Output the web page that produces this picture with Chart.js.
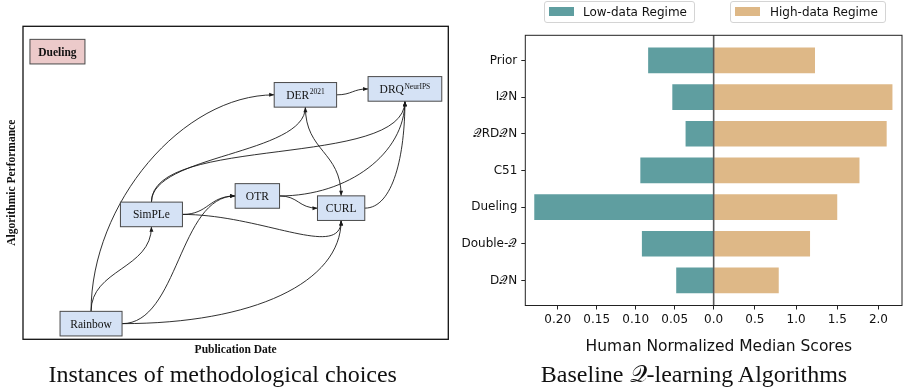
<!DOCTYPE html>
<html>
<head>
<meta charset="utf-8">
<script src="https://cdn.jsdelivr.net/npm/chart.js@4.4.0/dist/chart.umd.min.js"></script>
<style>
  body { margin: 0; width: 904px; height: 389px; background: #fff; position: relative; overflow: hidden; }
  .panel { position: absolute; top: 0; height: 362px; }
  .caption { position: absolute; top: 359.6px; line-height: 28px; font-family: "Liberation Serif", "Times New Roman", serif; font-size: 24px; color: #111; white-space: nowrap; transform: translateX(-50%); }
  .xtitle { position: absolute; top: 336.6px; line-height: 18px; font-family: "DejaVu Sans", sans-serif; font-size: 15.5px; color: #111; white-space: nowrap; transform: translateX(-50%); }
  .legend-box { position: absolute; top: 1px; height: 22.3px; box-sizing: border-box; border: 1px solid #d4d4d4; border-radius: 3px; font-family: "DejaVu Sans", sans-serif; font-size: 12px; color: #111; }
  .legend-box .swatch { position: absolute; top: 5.3px; width: 25px; height: 8.5px; }
  .legend-box .label { position: absolute; top: 1.5px; line-height: 16px; white-space: nowrap; }
</style>
</head>
<body>
<div class="panel" style="left:0;width:452px;"><canvas id="flowChart"></canvas></div>
<div class="panel" style="left:450px;width:454px;"><canvas id="barChart"></canvas></div>

<div class="legend-box" style="left:543.7px;width:151.6px;">
  <div class="swatch" style="left:4px;background:#5f9ea0;"></div>
  <div class="label" style="left:38.3px;">Low-data Regime</div>
</div>
<div class="legend-box" style="left:729.7px;width:156px;">
  <div class="swatch" style="left:4.3px;background:#deb887;"></div>
  <div class="label" style="left:39.3px;">High-data Regime</div>
</div>
<div class="xtitle" style="left:718.8px;">Human Normalized Median Scores</div>
<div class="caption" style="left:222.7px;">Instances of methodological choices</div>
<div class="caption" style="left:694px;">Baseline 𝒬-learning Algorithms</div>

<script>
// Left panel: algorithms placed by publication date / performance
const nodeNames = ['Rainbow', 'SimPLe', 'OTR', 'CURL', 'DER', 'DRQ', 'Dueling'];
const nodeSup = ['', '', '', '', '2021', 'NeurIPS', ''];
const nodeDate = [16.0, 30.2, 55.1, 74.8, 66.4, 89.8, 8.1];
const nodePerf = [5.0, 39.9, 45.8, 41.9, 78.1, 80.0, 91.9];

// [from, exit side, to, entry side, bend]
const edges = [
    ['Rainbow', 'top', 'DER', 'left', 0.5],
    ['Rainbow', 'top', 'SimPLe', 'bottom', 0.5],
    ['Rainbow', 'right', 'OTR', 'left', 0.5],
    ['Rainbow', 'right', 'CURL', 'bottom', 0.6],
    ['SimPLe', 'top', 'DER', 'bottom', 0.5],
    ['SimPLe', 'top', 'DRQ', 'bottom', 0.2],
    ['SimPLe', 'right', 'OTR', 'left', 0.5],
    ['SimPLe', 'right', 'CURL', 'bottom', 0.5],
    ['OTR', 'right', 'CURL', 'left', 0.5],
    ['OTR', 'right', 'DRQ', 'bottom', 0.55],
    ['DER', 'bottom', 'CURL', 'top', 0.5],
    ['DER', 'right', 'DRQ', 'left', 0.5],
    ['CURL', 'right', 'DRQ', 'bottom', 0.5]
];

// Right panel: baseline Q-learning algorithms
const categories = ['Prior', 'I𝒬N', '𝒬RD𝒬N', 'C51', 'Dueling', 'Double-𝒬', 'D𝒬N'];
const lowData = [0.084, 0.053, 0.036, 0.094, 0.230, 0.092, 0.048];
const highData = [1.23, 2.17, 2.10, 1.77, 1.50, 1.17, 0.79];
const lowTicks = [0.05, 0.10, 0.15, 0.20];
const highTicks = [0.0, 0.5, 1.0, 1.5, 2.0];

Chart.defaults.font.family = 'DejaVu Sans';
Chart.defaults.color = '#111';

const boxStyle = {
    width: { Rainbow: 62, SimPLe: 62, OTR: 44.4, CURL: 47.3, DER: 62.4, DRQ: 73.7, Dueling: 55 },
    height: 24.6
};
const DIRS = { top: [0, -1], bottom: [0, 1], left: [-1, 0], right: [1, 0] };

function nodeBoxes(chart) {
    const xs = chart.scales.x, ys = chart.scales.y;
    const boxes = {};
    nodeNames.forEach((name, i) => {
        boxes[name] = {
            cx: xs.getPixelForValue(nodeDate[i]),
            cy: ys.getPixelForValue(nodePerf[i]),
            w: boxStyle.width[name],
            h: boxStyle.height,
            sup: nodeSup[i],
            special: name === 'Dueling'
        };
    });
    return boxes;
}

function portOf(b, side) {
    const d = DIRS[side];
    return [b.cx + d[0] * b.w / 2, b.cy + d[1] * b.h / 2];
}

const diagramPlugin = {
    id: 'diagram',
    afterDatasetsDraw(chart) {
        const ctx = chart.ctx;
        const a = chart.chartArea;
        const boxes = nodeBoxes(chart);
        ctx.save();

        // edges
        ctx.strokeStyle = '#1a1a1a';
        ctx.fillStyle = '#1a1a1a';
        ctx.lineWidth = 0.9;
        edges.forEach(([from, fs, to, ts, bend]) => {
            const p0 = portOf(boxes[from], fs);
            const p3 = portOf(boxes[to], ts);
            const dx = p3[0] - p0[0], dy = p3[1] - p0[1];
            const dist = Math.hypot(dx, dy);
            const d0 = DIRS[fs], d3 = DIRS[ts];
            const k0 = Math.max(bend * Math.abs(d0[0] ? dx : dy), 0.25 * dist);
            const k3 = Math.max(bend * Math.abs(d3[0] ? dx : dy), 0.25 * dist);
            const p1 = [p0[0] + d0[0] * k0, p0[1] + d0[1] * k0];
            const p2 = [p3[0] + d3[0] * k3, p3[1] + d3[1] * k3];
            ctx.beginPath();
            ctx.moveTo(p0[0], p0[1]);
            ctx.bezierCurveTo(p1[0], p1[1], p2[0], p2[1], p3[0], p3[1]);
            ctx.stroke();
            // arrow head
            const ux = -d3[0], uy = -d3[1];
            const len = 5, half = 2;
            ctx.beginPath();
            ctx.moveTo(p3[0], p3[1]);
            ctx.lineTo(p3[0] - ux * len - uy * half, p3[1] - uy * len + ux * half);
            ctx.lineTo(p3[0] - ux * len + uy * half, p3[1] - uy * len - ux * half);
            ctx.closePath();
            ctx.fill();
        });

        // boxes
        nodeNames.forEach(name => {
            const b = boxes[name];
            const x = b.cx - b.w / 2, y = b.cy - b.h / 2;
            ctx.fillStyle = b.special ? '#eccaca' : '#d5e2f5';
            ctx.fillRect(x, y, b.w, b.h);
            ctx.strokeStyle = '#4a4a4a';
            ctx.lineWidth = 1;
            ctx.strokeRect(x, y, b.w, b.h);

            ctx.fillStyle = '#111';
            ctx.textBaseline = 'alphabetic';
            ctx.textAlign = 'left';
            const mainFont = (b.special ? 'bold ' : '') + '11.5px "Liberation Serif"';
            ctx.font = mainFont;
            const w1 = ctx.measureText(name).width;
            ctx.font = '7.5px "Liberation Serif"';
            const w2 = b.sup ? ctx.measureText(b.sup).width + 0.5 : 0;
            const tx = b.cx - (w1 + w2) / 2;
            const base = b.cy + 3.9;
            ctx.font = mainFont;
            ctx.fillText(name, tx, base);
            if (b.sup) {
                ctx.font = '7.5px "Liberation Serif"';
                ctx.fillText(b.sup, tx + w1 + 0.5, base - 4.3);
            }
        });

        // frame
        ctx.strokeStyle = '#111';
        ctx.lineWidth = 1.3;
        ctx.strokeRect(a.left, a.top, a.right - a.left, a.bottom - a.top);
        ctx.restore();
    }
};

document.addEventListener('DOMContentLoaded', () => {
    const titleFont = { family: 'Liberation Serif', size: 11.5, weight: 'bold' };

    // Diagram panel
    const flowChart = new Chart(document.getElementById('flowChart'), {
        type: 'scatter',
        data: {
            datasets: [{
                data: nodeDate.map((x, i) => ({ x: x, y: nodePerf[i] })),
                pointRadius: 0
            }]
        },
        options: {
            responsive: true,
            maintainAspectRatio: false,
            animation: false,
            events: [],
            layout: { padding: { top: 26.3, right: 3.7, left: 0, bottom: 0 } },
            scales: {
                x: {
                    type: 'linear', min: 0, max: 100,
                    ticks: { display: false },
                    grid: { display: false },
                    border: { display: false },
                    title: { display: true, text: 'Publication Date', font: titleFont, color: '#111', padding: { top: 0, bottom: 5.1 } },
                    afterFit: s => { s.height = 22.7; }
                },
                y: {
                    type: 'linear', min: 0, max: 100,
                    ticks: { display: false },
                    grid: { display: false },
                    border: { display: false },
                    title: { display: true, text: 'Algorithmic Performance', font: titleFont, color: '#111', padding: { top: 5.5, bottom: 0 } },
                    afterFit: s => { s.width = 23; }
                }
            },
            plugins: {
                legend: { display: false },
                tooltip: { enabled: false }
            }
        },
        plugins: [diagramPlugin]
    });

    // Bar chart panel
    const framePlugin = {
        id: 'frame',
        afterDatasetsDraw(chart) {
            const { ctx, chartArea: a, scales } = chart;
            const x0 = scales.xHigh.getPixelForValue(0);
            ctx.save();
            ctx.strokeStyle = '#5a5a5a';
            ctx.lineWidth = 1.6;
            ctx.beginPath();
            ctx.moveTo(x0, a.top);
            ctx.lineTo(x0, a.bottom);
            ctx.stroke();
            ctx.strokeStyle = '#222';
            ctx.lineWidth = 1;
            ctx.strokeRect(a.left, a.top, a.right - a.left, a.bottom - a.top);
            ctx.restore();
        }
    };

    const tickGrid = { drawOnChartArea: false, drawTicks: true, tickLength: 4, color: '#222', offset: false };

    const barChart = new Chart(document.getElementById('barChart'), {
        type: 'bar',
        data: {
            datasets: [{
                label: 'Low-data Regime',
                data: lowData.map((v, i) => ({ x: v, y: i })),
                backgroundColor: '#5f9ea0',
                xAxisID: 'xLow',
                yAxisID: 'y',
                grouped: false,
                barPercentage: 0.7,
                categoryPercentage: 1
            }, {
                label: 'High-data Regime',
                data: highData.map((v, i) => ({ x: v, y: i })),
                backgroundColor: '#deb887',
                xAxisID: 'xHigh',
                yAxisID: 'y',
                grouped: false,
                barPercentage: 0.7,
                categoryPercentage: 1
            }]
        },
        options: {
            indexAxis: 'y',
            responsive: true,
            maintainAspectRatio: false,
            animation: false,
            events: [],
            layout: { padding: { top: 35.3, right: 2, left: 0, bottom: 0 } },
            scales: {
                y: {
                    type: 'linear',
                    reverse: true,
                    min: -0.685,
                    max: 6.685,
                    offset: false,
                    afterBuildTicks: s => { s.ticks = categories.map((c, i) => ({ value: i })); },
                    ticks: { callback: v => categories[v], font: { size: 12 }, padding: 4, autoSkip: false },
                    grid: tickGrid,
                    border: { display: false },
                    afterFit: s => { s.width = 75.3; }
                },
                xLow: {
                    type: 'linear',
                    position: 'bottom',
                    axis: 'x',
                    stack: 'scores',
                    stackWeight: 1,
                    reverse: true,
                    min: 0,
                    max: 0.2415,
                    afterBuildTicks: s => { s.ticks = lowTicks.map(v => ({ value: v })); },
                    ticks: { callback: v => v.toFixed(2), font: { size: 12 }, padding: 3, autoSkip: false, maxRotation: 0 },
                    grid: tickGrid,
                    border: { display: false },
                    afterFit: s => { s.height = 56.5; }
                },
                xHigh: {
                    type: 'linear',
                    position: 'bottom',
                    axis: 'x',
                    stack: 'scores',
                    stackWeight: 1,
                    min: 0,
                    max: 2.286,
                    afterBuildTicks: s => { s.ticks = highTicks.map(v => ({ value: v })); },
                    ticks: { callback: v => v.toFixed(1), font: { size: 12 }, padding: 3, autoSkip: false, maxRotation: 0 },
                    grid: tickGrid,
                    border: { display: false },
                    afterFit: s => { s.height = 56.5; }
                }
            },
            plugins: {
                legend: { display: false },
                tooltip: { enabled: false }
            }
        },
        plugins: [framePlugin]
    });
});
</script>
</body>
</html>
